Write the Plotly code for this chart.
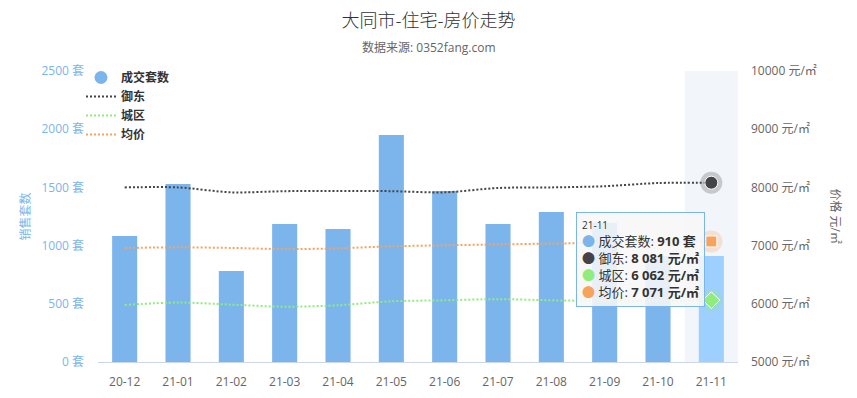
import plotly.graph_objects as go

categories = ["20-12", "21-01", "21-02", "21-03", "21-04", "21-05",
              "21-06", "21-07", "21-08", "21-09", "21-10", "21-11"]
sales = [1082, 1529, 782, 1186, 1143, 1950, 1469, 1186, 1289, 1197, 910, 910]
yudong = [8000, 8000, 7915, 7935, 7940, 7935, 7915, 7990, 8000, 8020, 8075, 8081]
chengqu = [5980, 6022, 5985, 5950, 5975, 6043, 6060, 6080, 6060, 6050, 6055, 6062]
junjia = [6960, 6970, 6960, 6940, 6953, 6988, 7005, 7020, 7035, 7045, 7060, 7071]

left_ticks = [0, 500, 1000, 1500, 2000, 2500]
right_ticks = [5000, 6000, 7000, 8000, 9000, 10000]

BLUE = "#7cb5ec"
DARK = "#434348"
GREEN = "#90ed7d"
ORANGE = "#f7a35c"
FONT = "Open Sans, Noto Sans CJK SC, sans-serif"

# page body has an 8px margin; the figure is sized to fill the rest of the window
OFF = 8
W, H = 857 - OFF, 398 - OFF
# plot area in window coordinates: x 98..738, y 71..362
PX0, PX1, PY0, PY1 = 98, 738, 71, 362
L, R, T, B = PX0 - OFF, 857 - PX1, PY0 - OFF, 398 - PY1
PW, PH = PX1 - PX0, PY1 - PY0


def px_x(x):
    return (x - PX0) / PW


def px_y(y):
    return (PY1 - y) / PH


def fmt(v):
    return f"{v:,}".replace(",", " ")


fig = go.Figure()

bar_colors = [BLUE] * (len(categories) - 1) + ["#9dcfff"]
fig.add_trace(go.Bar(
    x=categories, y=sales, name="成交套数", marker=dict(color=bar_colors, line=dict(width=0)),
    width=0.47, showlegend=False, yaxis="y"))
# legend proxy with circular symbol
fig.add_trace(go.Scatter(
    x=[None], y=[None], mode="markers", name="成交套数",
    marker=dict(color=BLUE, size=13, symbol="circle"), showlegend=True))

for name, vals, color in [("御东", yudong, DARK), ("城区", chengqu, GREEN), ("均价", junjia, ORANGE)]:
    fig.add_trace(go.Scatter(
        x=categories, y=vals, name=name, mode="lines", yaxis="y2",
        line=dict(color=color, width=2, dash="2px,2px", shape="spline", smoothing=0.8)))

# hover state markers on the last category
last = categories[-1]
for vals, color, sym, size in [(yudong, DARK, "circle", 13), (junjia, ORANGE, "square", 11),
                               (chengqu, GREEN, "diamond", 13)]:
    fig.add_trace(go.Scatter(x=[last], y=[vals[-1]], mode="markers", yaxis="y2", showlegend=False,
                             marker=dict(color=color, size=22, opacity=0.25, symbol="circle", line=dict(width=0))))
    fig.add_trace(go.Scatter(x=[last], y=[vals[-1]], mode="markers", yaxis="y2", showlegend=False,
                             marker=dict(color=color, size=size, symbol=sym, line=dict(color="#ffffff", width=1))))

tooltip = (
    f"<span style='font-size:10px'>{last}</span><br>"
    f"<span style='color:{BLUE}'>●</span> 成交套数: <b>{fmt(sales[-1])} 套</b><br>"
    f"<span style='color:{DARK}'>●</span> 御东: <b>{fmt(yudong[-1])} 元/㎡</b><br>"
    f"<span style='color:{GREEN}'>●</span> 城区: <b>{fmt(chengqu[-1])} 元/㎡</b><br>"
    f"<span style='color:{ORANGE}'>●</span> 均价: <b>{fmt(junjia[-1])} 元/㎡</b>"
)

fig.update_layout(
    width=W, height=H,
    margin=dict(l=L, r=R, t=T, b=B, autoexpand=False),
    paper_bgcolor="white", plot_bgcolor="white",
    font=dict(family=FONT, size=12, color="#333333"),
    title=dict(text="大同市-住宅-房价走势", x=0.5 - OFF / 2 / W, xref="container", xanchor="center",
               y=1 - (21 - OFF) / H, yref="container", yanchor="middle",
               font=dict(size=18, color="#333333", family="Noto Sans CJK SC, Open Sans, sans-serif",
                         weight=300)),
    bargap=0.53,
    showlegend=True,
    legend=dict(x=px_x(81), y=px_y(63), xanchor="left", yanchor="top",
                bgcolor="rgba(0,0,0,0)", font=dict(size=12, color="#333333", weight=700),
                itemwidth=30, tracegroupgap=0),
    xaxis=dict(type="category", categoryorder="array", categoryarray=categories,
               showgrid=False, showline=True, linecolor="#ccd6eb", linewidth=1,
               ticks="", tickfont=dict(size=12, color="#666666"), ticklabelstandoff=9,
               range=[-0.5, len(categories) - 0.5], fixedrange=True),
    yaxis=dict(range=[0, 2500], tickvals=left_ticks, ticktext=[f"{v} 套" for v in left_ticks],
               showgrid=False, zeroline=False, showline=False, ticks="",
               tickfont=dict(size=12, color=BLUE), ticklabelstandoff=13,
               title=dict(text="销售套数", font=dict(size=12, color=BLUE), standoff=8)),
    yaxis2=dict(range=[5000, 10000], tickvals=right_ticks, ticktext=[f"{v} 元/㎡" for v in right_ticks],
                overlaying="y", side="right", showgrid=False, zeroline=False, showline=False, ticks="",
                tickfont=dict(size=12, color="#666666"), ticklabelstandoff=12),
    shapes=[
        dict(type="rect", xref="x", yref="paper", x0=10.5, x1=11.5, y0=0, y1=1,
             fillcolor="rgba(204,214,235,0.25)", line=dict(width=0), layer="below"),
    ],
    annotations=[
        dict(text="数据来源: 0352fang.com", xref="paper", yref="paper", x=px_x(428.5), y=px_y(47),
             xanchor="center", yanchor="middle", showarrow=False, font=dict(size=12, color="#666666")),
        dict(text="价格 元/㎡", xref="paper", yref="paper", x=px_x(835), y=0.5, textangle=90,
             xanchor="center", yanchor="middle", showarrow=False, font=dict(size=12, color="#666666")),
        dict(text=tooltip, xref="paper", yref="paper", x=px_x(576), y=px_y(212),
             xanchor="left", yanchor="top", align="left", showarrow=False,
             bgcolor="rgba(247,247,247,0.88)", bordercolor=BLUE, borderwidth=1, borderpad=5,
             font=dict(size=13, color="#333333")),
    ],
)

fig.write_html("out.html")
